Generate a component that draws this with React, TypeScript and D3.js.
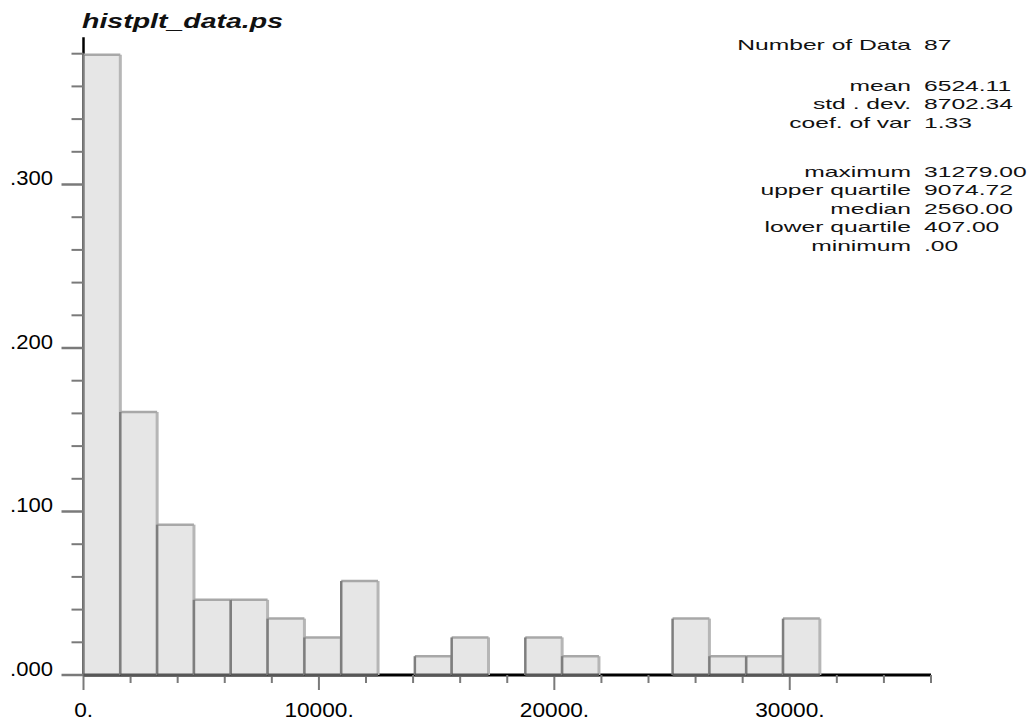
import React, { useEffect } from "react";
import * as d3 from "d3";

// Histogram of 87 values, binned into 20 equal classes from minimum to maximum
const binCounts = [33, 14, 8, 4, 4, 3, 2, 5, 0, 1, 2, 0, 2, 1, 0, 0, 3, 1, 1, 3];
const numberOfData = 87;
const dataMinimum = 0;
const dataMaximum = 31279.0;

const chartTitle = "histplt_data.ps";

const xMajorTicks = [0, 10000, 20000, 30000];
const xTickLabels = ["0.", "10000.", "20000.", "30000."];
const yMajorTicks = [0, 0.1, 0.2, 0.3];
const yTickLabels = [".000", ".100", ".200", ".300"];

const statLabels = [
  "Number of Data",
  "mean",
  "std . dev.",
  "coef. of var",
  "maximum",
  "upper quartile",
  "median",
  "lower quartile",
  "minimum",
];
const statValues = ["87", "6524.11", "8702.34", "1.33", "31279.00", "9074.72", "2560.00", "407.00", ".00"];
const statBlock = [0, 1, 1, 1, 2, 2, 2, 2, 2];

const W = 1035;
const H = 724;

const X_MAX = 36000;
const Y_MAX = 0.39;

const xScale = d3.scaleLinear().domain([0, X_MAX]).range([83.5, 931]);
const yScale = d3.scaleLinear().domain([0, Y_MAX]).range([675, 37.35]);

const FONT = "'Liberation Sans', Arial, Helvetica, sans-serif";

export default function App() {
  useEffect(() => {
    document.body.style.margin = "0";
  }, []);

  const binWidth = (dataMaximum - dataMinimum) / binCounts.length;
  const bins = binCounts.map((c, i) => ({
    x0: dataMinimum + i * binWidth,
    x1: dataMinimum + (i + 1) * binWidth,
    freq: c / numberOfData,
  }));

  const y0 = yScale(0);
  const xMinor = d3.range(0, X_MAX + 1, 2000).filter((v) => !xMajorTicks.includes(v));
  const yMinor = d3
    .range(0, 20)
    .map((i) => i * 0.02)
    .filter((v) => !yMajorTicks.some((m) => Math.abs(m - v) < 1e-9));

  // vertical layout of the statistics block
  const rowStep = 18.4;
  const blockOffset = [0, 22.6, 53.4];
  const statY = (i: number) => 50 + i * rowStep + blockOffset[statBlock[i]];
  const statScaleX = 1.76;

  const axisLabelSize = 21;
  const digitW = 0.556 * axisLabelSize;

  return (
    <svg
      width={W}
      height={H}
      viewBox={`0 0 ${W} ${H}`}
      style={{ position: "absolute", left: 0, top: 0, background: "#ffffff", display: "block" }}
    >
      <rect x={0} y={0} width={W} height={H} fill="#ffffff" />

      {/* title */}
      <text
        x={82}
        y={28}
        fontFamily={FONT}
        fontSize={20}
        fontStyle="italic"
        fontWeight="bold"
        fill="#111"
        textLength={201}
        lengthAdjust="spacingAndGlyphs"
      >
        {chartTitle}
      </text>

      {/* axes lines */}
      <line x1={xScale(0)} x2={xScale(0)} y1={yScale(Y_MAX)} y2={y0} stroke="#000" strokeWidth={2.5} />
      <line x1={xScale(0)} x2={xScale(X_MAX)} y1={y0} y2={y0} stroke="#000" strokeWidth={3} />

      {/* y ticks */}
      {yMinor.map((v) => (
        <line key={"ym" + v} x1={xScale(0) - 12} x2={xScale(0)} y1={yScale(v)} y2={yScale(v)} stroke="#7a7a7a" strokeWidth={2} />
      ))}
      {yMajorTicks.map((v) => (
        <line key={"yM" + v} x1={xScale(0) - 22} x2={xScale(0)} y1={yScale(v)} y2={yScale(v)} stroke="#7a7a7a" strokeWidth={2.5} />
      ))}
      {yMajorTicks.map((v, i) => (
        <text
          key={"yl" + v}
          transform={`translate(53, ${yScale(v) + 0.5}) scale(1.05, 1)`}
          textAnchor="end"
          fontFamily={FONT}
          fontSize={axisLabelSize}
          fill="#000"
        >
          {yTickLabels[i]}
        </text>
      ))}

      {/* x ticks */}
      {xMinor.map((v) => (
        <line key={"xm" + v} x1={xScale(v)} x2={xScale(v)} y1={y0} y2={y0 + 8} stroke="#7a7a7a" strokeWidth={2} />
      ))}
      {xMajorTicks.map((v) => (
        <line key={"xM" + v} x1={xScale(v)} x2={xScale(v)} y1={y0} y2={y0 + 15} stroke="#7a7a7a" strokeWidth={2} />
      ))}
      {xMajorTicks.map((v, i) => {
        const digits = xTickLabels[i].replace(".", "").length;
        const half = (digits * digitW * 1.08) / 2;
        return (
          <text
            key={"xl" + v}
            transform={`translate(${xScale(v) - 3 - half}, 717) scale(1.08, 1)`}
            fontFamily={FONT}
            fontSize={axisLabelSize}
            fill="#000"
          >
            {xTickLabels[i]}
          </text>
        );
      })}

      {/* bars */}
      {bins.map((b, i) =>
        b.freq > 0 ? (
          <g key={"bar" + i}>
            <rect
              x={xScale(b.x0)}
              y={yScale(b.freq)}
              width={xScale(b.x1) - xScale(b.x0)}
              height={y0 - yScale(b.freq)}
              fill="#e6e6e6"
            />
            <line x1={xScale(b.x1)} x2={xScale(b.x1)} y1={yScale(b.freq)} y2={y0} stroke="#b6b6b6" strokeWidth={3} />
            <line x1={xScale(b.x0)} x2={xScale(b.x1)} y1={yScale(b.freq)} y2={yScale(b.freq)} stroke="#a8a8a8" strokeWidth={2.5} />
            <line x1={xScale(b.x0)} x2={xScale(b.x0)} y1={yScale(b.freq)} y2={y0} stroke="#7e7e7e" strokeWidth={2.5} />
            <line x1={xScale(b.x0)} x2={xScale(b.x1)} y1={y0} y2={y0} stroke="#575757" strokeWidth={3} />
          </g>
        ) : null
      )}

      {/* summary statistics */}
      {statLabels.map((lab, i) => (
        <g key={"st" + i}>
          <text
            transform={`translate(911, ${statY(i)}) scale(${statScaleX}, 1)`}
            textAnchor="end"
            fontFamily={FONT}
            fontSize={14}
            fill="#111"
          >
            {lab}
          </text>
          <text
            transform={`translate(924, ${statY(i)}) scale(${statScaleX}, 1)`}
            fontFamily={FONT}
            fontSize={14}
            fill="#111"
          >
            {statValues[i]}
          </text>
        </g>
      ))}
    </svg>
  );
}
